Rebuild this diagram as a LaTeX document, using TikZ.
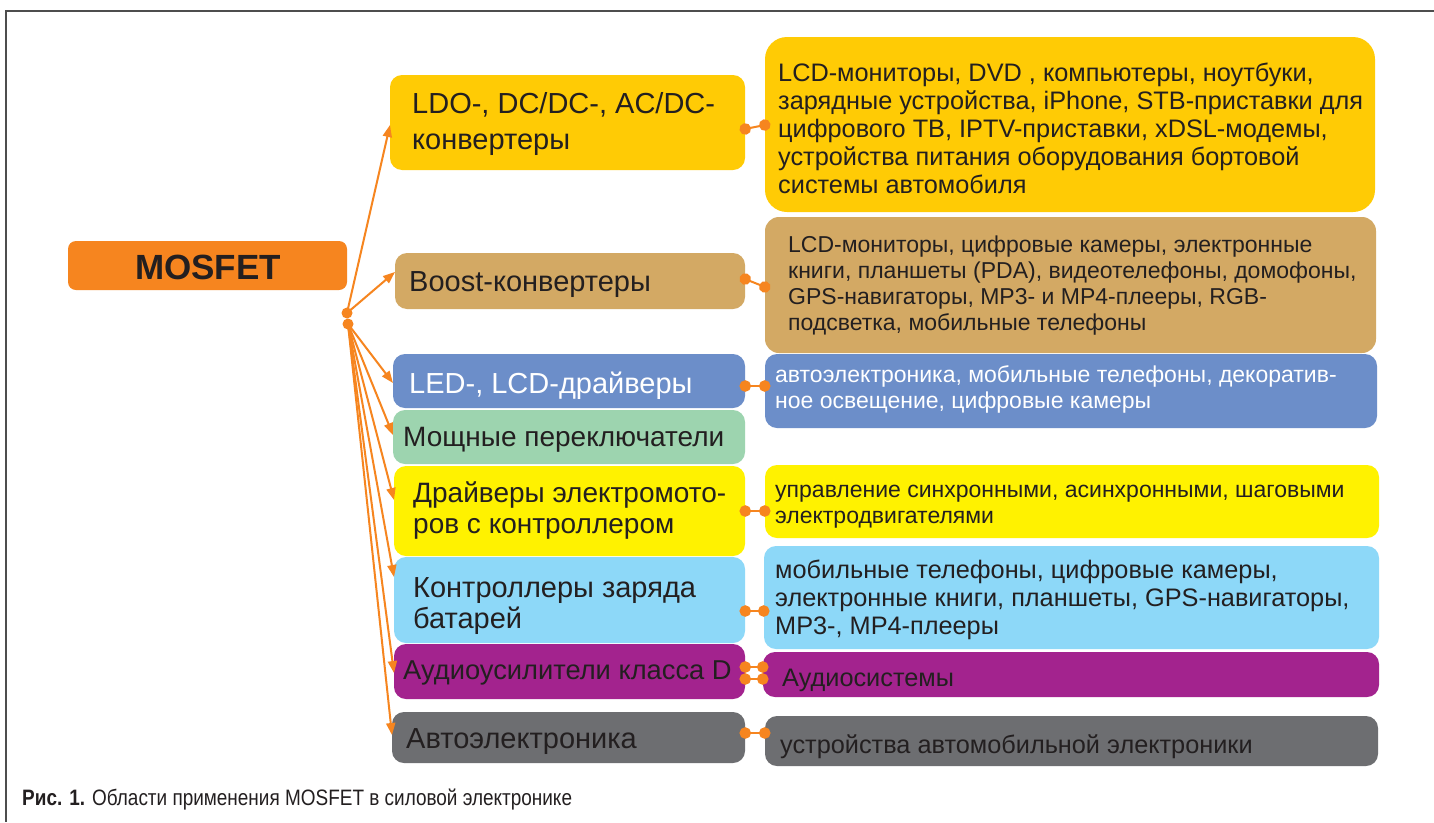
\documentclass[tikz,border=0pt]{standalone}
\usepackage{fontspec}
\setmainfont{Liberation Sans}
\newfontfamily\capfont[FakeStretch=0.85]{Liberation Sans}
\usetikzlibrary{arrows.meta}
\definecolor{cOr}{HTML}{F6851F}
\definecolor{cTx}{HTML}{231F20}
\definecolor{cLdo}{HTML}{FFCB05}
\definecolor{cTan}{HTML}{D3A964}
\definecolor{cBlu}{HTML}{6C8EC9}
\definecolor{cGrn}{HTML}{9DD4AF}
\definecolor{cYel}{HTML}{FFF200}
\definecolor{cSky}{HTML}{8DD8F8}
\definecolor{cPur}{HTML}{A3238E}
\definecolor{cGry}{HTML}{6D6E71}
\definecolor{cFrm}{HTML}{4D4D4D}
\newcommand\mybox[7]{\node[boxshape, fill=#6, rounded corners=#7pt,
  minimum width={(#4-#2)*1pt}, minimum height={(#5-#3)*1pt}]
  (#1) at ({(#2+#4)/2},{(#3+#5)/2}) {};}
\begin{document}
\begin{tikzpicture}[x=1pt,y=-1pt,
  boxshape/.style={shape=rectangle, inner sep=0pt, outer sep=0pt, draw=none},
  ltxt/.style={anchor=west, inner sep=0pt, align=left, text=cTx, font=\fontsize{29}{31}\selectfont},
  lsm/.style={font=\fontsize{28}{31}\selectfont},
  rtxt/.style={anchor=west, inner sep=0pt, align=left, text=cTx, font=\fontsize{23}{26}\selectfont},
  rbig/.style={anchor=west, inner sep=0pt, align=left, text=cTx, font=\fontsize{25.3}{28}\selectfont},
  fan/.style={draw=cOr, line width=2pt, -{Triangle[length=12pt,width=9pt]}},
  dumb/.style={draw=cOr, line width=2pt, {Circle[length=11.5pt]}-{Circle[length=11.5pt]},
    shorten <=-5.5pt, shorten >=-5.5pt},
  frame/.style={draw=cFrm, line width=2pt}]
\useasboundingbox (0,0) rectangle (1434,822);
\fill[white] (0,0) rectangle (1434,822);
% frame
\coordinate (frA) at (1434,11);
\coordinate (frB) at (6,11);
\coordinate (frC) at (6,822);
\draw[frame] (frA) -- (frB) -- (frC);
% MOSFET
\mybox{mos}{68}{241}{347}{290}{cOr}{8}
\node[inner sep=0pt, text=cTx, font=\bfseries\fontsize{35}{35}\selectfont] (mosT) at (208,267) {MOSFET};
% left boxes
\mybox{ldo}{390}{75}{745}{170}{cLdo}{12}
\mybox{boost}{395}{253}{745}{309}{cTan}{12}
\mybox{led}{393}{354}{745}{408}{cBlu}{12}
\mybox{pow}{393}{410}{745}{464}{cGrn}{12}
\mybox{drv}{394}{466}{745}{556}{cYel}{12}
\mybox{chg}{394}{557}{745}{643}{cSky}{12}
\mybox{aud}{394}{644}{745}{699}{cPur}{12}
\mybox{car}{392}{712}{745}{763}{cGry}{12}
% right boxes
\mybox{ldoR}{765}{37}{1375}{212}{cLdo}{22}
\mybox{boostR}{765}{217}{1376}{353}{cTan}{14}
\mybox{ledR}{765}{354}{1377}{428}{cBlu}{12}
\mybox{drvR}{765}{465}{1379}{538}{cYel}{12}
\mybox{chgR}{764}{546}{1379}{649}{cSky}{12}
\mybox{audR}{763}{652}{1379}{697}{cPur}{12}
\mybox{carR}{765}{716}{1378}{766}{cGry}{12}
% left texts
\node[ltxt, font=\fontsize{29}{36}\selectfont] (ldoT) at (412,124) {LDO-, DC/DC-, AC/DC-\\конвертеры};
\node[ltxt] (boostT) at (409,285) {Boost-конвертеры};
\node[ltxt, text=white] (ledT) at (409,386) {LED-, LCD-драйверы};
\node[ltxt, lsm] (powT) at (403,440) {Мощные переключатели};
\node[ltxt, lsm] (drvT) at (413,511) {Драйверы электромото-\\ров с контроллером};
\node[ltxt] (chgT) at (413,606) {Контроллеры заряда\\батарей};
\node[ltxt, font=\fontsize{27.3}{31}\selectfont] (audT) at (403,673) {Аудиоусилители класса D};
\node[ltxt] (carT) at (406,742) {Автоэлектроника};
% right texts
\node[rbig] (ldoRT) at (778,128) {LCD-мониторы, DVD , компьютеры, ноутбуки,\\зарядные устройства, iPhone, STB-приставки для\\цифрового ТВ, IPTV-приставки, xDSL-модемы,\\устройства питания оборудования бортовой\\системы автомобиля};
\node[rtxt] (boostRT) at (788,286) {LCD-мониторы, цифровые камеры, электронные\\книги, планшеты (PDA), видеотелефоны, домофоны,\\GPS-навигаторы, MP3- и MP4-плееры, RGB-\\подсветка, мобильные телефоны};
\node[rtxt, text=white] (ledRT) at (775,389) {автоэлектроника, мобильные телефоны, декоратив-\\ное освещение, цифровые камеры};
\node[rtxt] (drvRT) at (775,507) {управление синхронными, асинхронными, шаговыми\\электродвигателями};
\node[rbig] (chgRT) at (775,600) {мобильные телефоны, цифровые камеры,\\электронные книги, планшеты, GPS-навигаторы,\\MP3-, MP4-плееры};
\node[rbig] (audRT) at (782,680) {Аудиосистемы};
\node[rbig] (carRT) at (780,747) {устройства автомобильной электроники};
% hub and fan arrows
\coordinate (hubA) at (347,313);
\coordinate (hubB) at (348,324);
\draw[fan] (hubA) -- ([yshift=-2.5pt]ldo.west);
\draw[fan] (hubA) -- ([yshift=9pt]boost.west);
\draw[fan] (hubB) -- ([yshift=-2pt]led.west);
\draw[fan] (hubB) -- ([yshift=2pt]pow.west);
\draw[fan] (hubB) -- ([yshift=11pt]drv.west);
\draw[fan] (hubB) -- ([yshift=23pt]chg.west);
\draw[fan] (hubB) -- ([yshift=-1.5pt]aud.west);
\draw[fan] (hubB) -- ([yshift=2.5pt]car.west);
\fill[cOr] (hubA) circle (5.5pt);
\fill[cOr] (hubB) circle (5.5pt);
% dumbbells
\draw[dumb] ([yshift=-6.5pt]ldo.east) -- ([yshift=-0.5pt]ldoR.west);
\draw[dumb] ([yshift=2pt]boost.east) -- ([yshift=-2pt]boostR.west);
\draw[dumb] ([yshift=-5pt]led.east) -- ([yshift=5pt]ledR.west);
\draw[dumb] (drv.east) -- ([yshift=-9.5pt]drvR.west);
\draw[dumb] ([yshift=-11pt]chg.east) -- ([yshift=-13.5pt]chgR.west);
\draw[dumb] ([yshift=4.5pt]aud.east) -- ([yshift=7.5pt]audR.west);
\draw[dumb] ([yshift=-7.5pt]aud.east) -- ([yshift=-4.5pt]audR.west);
\draw[dumb] ([yshift=4.5pt]car.east) -- ([yshift=8pt]carR.west);
% caption
\node[anchor=base west, inner sep=0pt, text=cTx, font=\capfont\fontsize{22.3}{22}\selectfont] (cap) at (22,805) {\textbf{Рис. 1.} Области применения MOSFET в силовой электронике};
\end{tikzpicture}
\end{document}
